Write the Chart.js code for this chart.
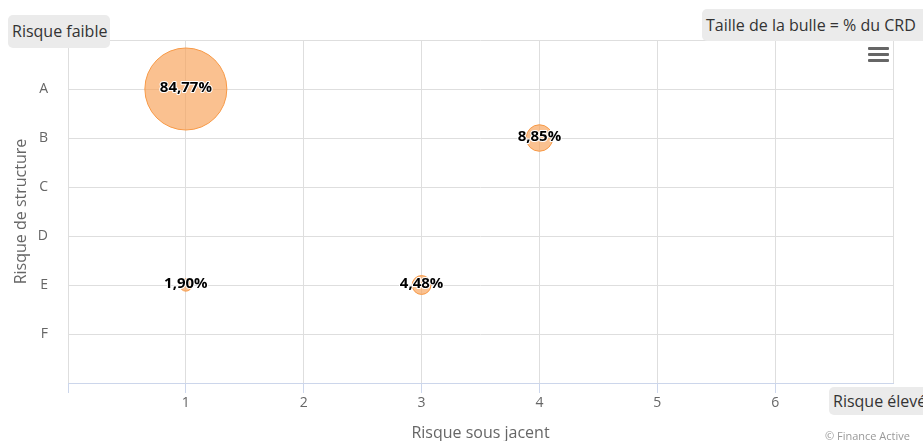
<!DOCTYPE html>
<html>
<head>
<meta charset="utf-8">
<script src="https://cdn.jsdelivr.net/npm/chart.js@4"></script>
<style>
  body { margin: 0; background: #fff; }
  #wrap { position: relative; width: 923px; height: 441px; overflow: hidden; font-family: "Open Sans", sans-serif; }
  #chart { position: absolute; left: 0; top: 0; }
  .tag { position: absolute; background: #ebebeb; border-radius: 5px; color: #333; font-size: 16px; white-space: nowrap; box-sizing: border-box; padding-left: 4px; }
  .credits { position: absolute; color: #999; font-size: 11px; white-space: nowrap; }
  .burger { position: absolute; left: 868px; width: 21px; height: 3px; background: #666; border-radius: 1px; }
</style>
</head>
<body>
<div id="wrap">
  <canvas id="chart" width="923" height="441"></canvas>
  <div class="tag" style="left:8px; top:15px; width:102px; height:33px; line-height:33px;">Risque faible</div>
  <div class="tag" style="left:702px; top:9px; width:230px; height:32px; line-height:32px;">Taille de la bulle = % du CRD</div>
  <div class="tag" style="left:829px; top:387px; width:120px; height:28px; line-height:28px;">Risque élevé</div>
  <div class="credits" style="left:825px; top:428px;">© Finance Active</div>
  <div class="burger" style="top:47px;"></div>
  <div class="burger" style="top:53px;"></div>
  <div class="burger" style="top:59px;"></div>
</div>
<script>
// risk categories (y) and underlying risk (x)
var structureLabels = ['A', 'B', 'C', 'D', 'E', 'F'];
var underlyingTicks = [1, 2, 3, 4, 5, 6];

// bubbles
var bubbleX     = [1, 4, 1, 3];
var bubbleY     = ['A', 'B', 'E', 'E'];
var bubbleShare = [84.77, 8.85, 1.90, 4.48];

var gridColor = '#dedede';
var axisColor = '#ccd6eb';

var points = [];
for (var i = 0; i < bubbleX.length; i++) {
    points.push({
        x: bubbleX[i],
        y: structureLabels.indexOf(bubbleY[i]) + 1,
        share: bubbleShare[i]
    });
}
var maxShare = Math.max.apply(null, bubbleShare);

function formatShare(v) {
    return v.toFixed(2).replace('.', ',') + '%';
}

// labels in the middle of each bubble, white outline
var bubbleLabels = {
    id: 'bubbleLabels',
    afterDatasetsDraw: function (chart) {
        var ctx = chart.ctx;
        var meta = chart.getDatasetMeta(0);
        ctx.save();
        ctx.font = 'bold 15px "Open Sans"';
        ctx.textAlign = 'center';
        ctx.textBaseline = 'middle';
        ctx.lineJoin = 'round';
        meta.data.forEach(function (el, idx) {
            var txt = formatShare(chart.data.datasets[0].data[idx].share);
            ctx.lineWidth = 2;
            ctx.strokeStyle = '#ffffff';
            ctx.strokeText(txt, el.x, el.y - 1);
            ctx.fillStyle = '#000000';
            ctx.fillText(txt, el.x, el.y - 1);
        });
        ctx.restore();
    }
};

var ctx = document.getElementById('chart').getContext('2d');
var myChart = new Chart(ctx, {
    type: 'bubble',
    data: {
        datasets: [{
            label: 'CRD',
            data: points,
            backgroundColor: 'rgba(247, 163, 92, 0.68)',
            borderColor: 'rgba(247, 153, 70, 1)',
            borderWidth: 1,
            radius: function (c) {
                if (!c.raw) return 0;
                return 41 * Math.sqrt(c.raw.share / maxShare);
            }
        }]
    },
    options: {
        responsive: false,
        animation: false,
        events: [],
        layout: { autoPadding: false, padding: { top: 40, right: 30, left: 0, bottom: 0 } },
        plugins: {
            legend: { display: false },
            tooltip: { enabled: false }
        },
        scales: {
            x: {
                type: 'linear',
                min: 0,
                max: 7,
                afterFit: function (s) {
                    s.height = 58;
                    s.paddingLeft = 0;
                    s.paddingRight = 0;
                },
                ticks: {
                    stepSize: 1,
                    padding: 2,
                    color: '#666',
                    font: { family: 'Open Sans', size: 14 },
                    callback: function (v) {
                        return underlyingTicks.indexOf(v) >= 0 ? String(v) : '';
                    }
                },
                grid: {
                    color: gridColor,
                    tickLength: 10,
                    tickColor: function (c) {
                        return c.tick && c.tick.value === 7 ? 'rgba(0,0,0,0)' : axisColor;
                    }
                },
                border: { color: axisColor },
                title: {
                    display: true,
                    text: 'Risque sous jacent',
                    color: '#666',
                    font: { family: 'Open Sans', size: 16, lineHeight: 1 },
                    padding: { top: 0, bottom: 0 }
                }
            },
            y: {
                type: 'linear',
                min: 0,
                max: 7,
                reverse: true,
                afterFit: function (s) {
                    s.width = 68;
                    s.paddingTop = 0;
                    s.paddingBottom = 0;
                },
                ticks: {
                    stepSize: 1,
                    padding: 20,
                    color: '#666',
                    font: { family: 'Open Sans', size: 14 },
                    callback: function (v) {
                        return structureLabels[v - 1] || '';
                    }
                },
                grid: { color: gridColor, drawTicks: false },
                border: { display: false },
                title: {
                    display: true,
                    text: 'Risque de structure',
                    color: '#666',
                    font: { family: 'Open Sans', size: 16, lineHeight: 1 },
                    padding: { top: 13, bottom: 0 }
                }
            }
        }
    },
    plugins: [bubbleLabels]
});
</script>
</body>
</html>
